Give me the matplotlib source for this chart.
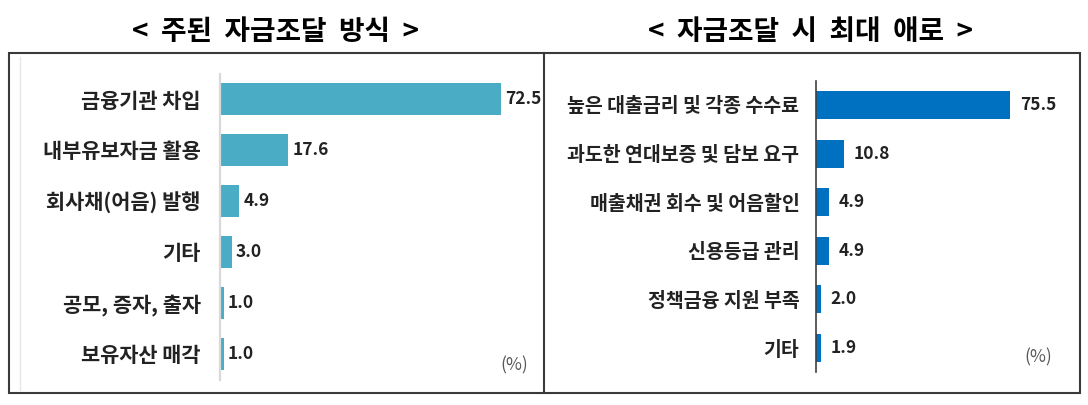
import matplotlib
matplotlib.use("Agg")
import matplotlib.pyplot as plt
from matplotlib.patches import Rectangle
from matplotlib.lines import Line2D

plt.rcParams['font.family'] = ['Noto Sans CJK KR', 'DejaVu Sans']

# left panel: main funding method (%)
left_title = "<  주된  자금조달  방식  >"
left_labels = ["금융기관 차입", "내부유보자금 활용", "회사채(어음) 발행", "기타",
               "공모, 증자, 출자", "보유자산 매각"]
left_values = [72.5, 17.6, 4.9, 3.0, 1.0, 1.0]

# right panel: biggest difficulty in funding (%)
right_title = "<  자금조달  시  최대  애로  >"
right_labels = ["높은 대출금리 및 각종 수수료", "과도한 연대보증 및 담보 요구",
                "매출채권 회수 및 어음할인", "신용등급 관리", "정책금융 지원 부족", "기타"]
right_values = [75.5, 10.8, 4.9, 4.9, 2.0, 1.9]

W, H = 1088, 405
fig = plt.figure(figsize=(W / 100, H / 100), dpi=100)


def fx(px):
    return px / W


def fy(py):
    return 1 - py / H


def panel(rect, labels, values, color, xmax, bar_h, spine_color, spine_w,
          pad, label_size, tick_pad):
    ax = fig.add_axes(rect)
    y = list(range(len(values)))
    bars = ax.barh(y, values, height=bar_h, color=color)
    ax.set_xlim(0, xmax)
    ax.set_ylim(len(values) - 0.5, -0.5)
    ax.set_yticks(y)
    ax.set_yticklabels(labels, fontsize=label_size, fontweight='bold', color='#222222')
    ax.tick_params(axis='y', length=0, pad=tick_pad)
    ax.set_xticks([])
    for s in ['top', 'right', 'bottom']:
        ax.spines[s].set_visible(False)
    ax.spines['left'].set_color(spine_color)
    ax.spines['left'].set_linewidth(spine_w)
    ax.bar_label(bars, labels=[f"{v:.1f}" for v in values], padding=pad,
                 fontsize=12.5, fontweight='bold', color='#222222')
    ax.patch.set_alpha(0)
    return ax


# left axes: axis at x=220px, 3.876 px per unit; rows from y=73.5 to 379.5
panel([fx(220), fy(379.5), fx(80 * 3.876), (379.5 - 73.5) / H],
      left_labels, left_values, '#4BACC6', 80, 0.61, '#D9D9D9', 1.6, 3, 15, 14)

# right axes: axis at x=816px, 2.57 px per unit; rows from y=80.7 to 372.3
panel([fx(816), fy(372.3), fx(95 * 2.57), (372.3 - 80.7) / H],
      right_labels, right_values, '#0070C0', 95, 0.58, '#404040', 1.2, 7, 14, 12)

# frames
fig.add_artist(Rectangle((fx(9), fy(393)), fx(1080 - 9), (393 - 53) / H,
                         transform=fig.transFigure, fill=False,
                         edgecolor='#3a3a3a', linewidth=1.5, zorder=0))
fig.add_artist(Line2D([fx(544), fx(544)], [fy(53), fy(393)],
                      transform=fig.transFigure, color='#3a3a3a', linewidth=1.5))
fig.add_artist(Line2D([fx(20), fx(20)], [fy(57), fy(390)],
                      transform=fig.transFigure, color='#e6e6e6', linewidth=1.0))

# titles
fig.text(fx(276), fy(31.5), left_title, ha='center', va='center',
         fontsize=20, fontweight='bold', color='black')
fig.text(fx(811), fy(31.5), right_title, ha='center', va='center',
         fontsize=20, fontweight='bold', color='black')

# unit notes
fig.text(fx(514), fy(365), "(%)", ha='center', va='center', fontsize=12.5, color='#595959')
fig.text(fx(1038), fy(357), "(%)", ha='center', va='center', fontsize=12.5, color='#595959')

fig.savefig("out.png", dpi=100)
